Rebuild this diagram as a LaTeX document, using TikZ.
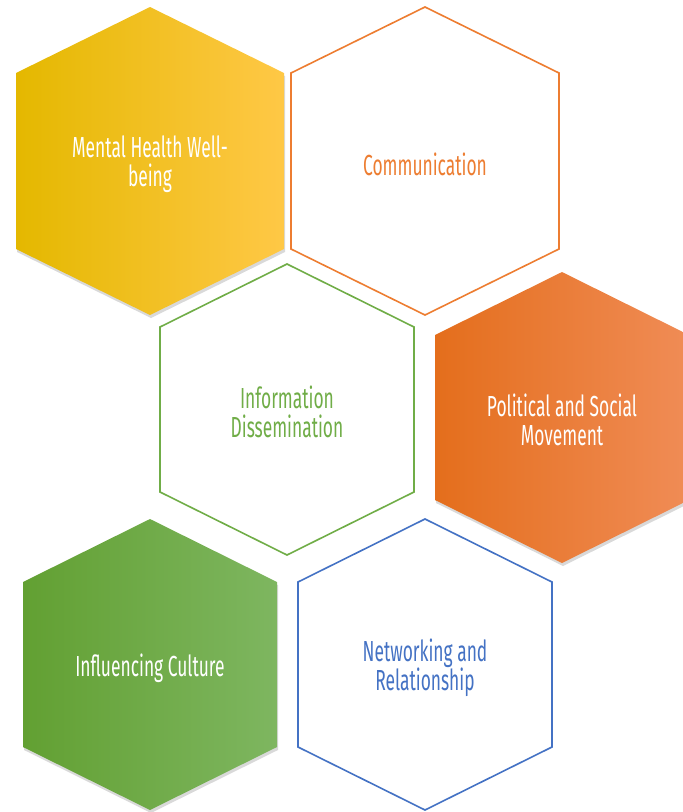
\documentclass[tikz,border=0pt]{standalone}
\usepackage{fontspec}
\newfontfamily\hexfont[FakeStretch=0.6]{Fira Sans}
\usepackage{xcolor}
\usepackage{tikz}
\usetikzlibrary{positioning, shadows}

\definecolor{jauneG}{RGB}{228,184,0}
\definecolor{jauneM}{RGB}{252,194,0}
\definecolor{jauneD}{RGB}{255,200,70}
\definecolor{orangeG}{RGB}{228,110,28}
\definecolor{orangeM}{RGB}{242,126,40}
\definecolor{orangeD}{RGB}{240,140,86}
\definecolor{vertG}{RGB}{98,160,50}
\definecolor{vertM}{RGB}{112,173,71}
\definecolor{vertD}{RGB}{126,182,96}
\definecolor{orangeT}{RGB}{237,125,49}
\definecolor{vertT}{RGB}{112,173,71}
\definecolor{bleuT}{RGB}{68,114,196}

\begin{document}
\begin{tikzpicture}[x=1pt, y=-1pt]
    % Styles
    \tikzset{
        hexfill/.style = {draw=none, drop shadow={opacity=.3, shadow xshift=1pt, shadow yshift=-3pt}},
        hexline/.style = {draw, line width=1.6pt, fill=white},
        hextext/.style = {font=\hexfont\fontsize{29}{29}\selectfont, align=center, yshift=-3pt}
    }
    \useasboundingbox (0,0) rectangle (683,812);

    % Hexagones pleins
    \path [hexfill, left color=jauneG, middle color=jauneM, right color=jauneD]
        (150,7) -- ++(134,66) -- ++(0,176) -- ++(-134,66) -- ++(-134,-66) -- ++(0,-176) -- cycle;
    \path [hexfill, left color=orangeG, middle color=orangeM, right color=orangeD]
        (562,272) -- ++(127,63) -- ++(0,165) -- ++(-127,63) -- ++(-127,-63) -- ++(0,-165) -- cycle;
    \path [hexfill, left color=vertG, middle color=vertM, right color=vertD]
        (150,519) -- ++(127,63) -- ++(0,165) -- ++(-127,63) -- ++(-127,-63) -- ++(0,-165) -- cycle;

    % Hexagones vides
    \path [hexline, draw=orangeT]
        (425,7) -- ++(134,66) -- ++(0,176) -- ++(-134,66) -- ++(-134,-66) -- ++(0,-176) -- cycle;
    \path [hexline, draw=vertT]
        (287,264) -- ++(127,63) -- ++(0,165) -- ++(-127,63) -- ++(-127,-63) -- ++(0,-165) -- cycle;
    \path [hexline, draw=bleuT]
        (425,519) -- ++(127,63) -- ++(0,165) -- ++(-127,63) -- ++(-127,-63) -- ++(0,-165) -- cycle;

    % Textes
    \node [hextext, text=white] (mental) at (150,161) {Mental Health Well-\\being};
    \node [hextext, text=orangeT] (comm) at (425,161) {Communication};
    \node [hextext, text=vertT] (info) at (287,409) {Information\\Dissemination};
    \node [hextext, text=white] (politique) at (562,417) {Political and Social\\Movement};
    \node [hextext, text=white] (culture) at (150,665) {Influencing Culture};
    \node [hextext, text=bleuT] (reseau) at (425,665) {Networking and\\Relationship};
\end{tikzpicture}
\end{document}
